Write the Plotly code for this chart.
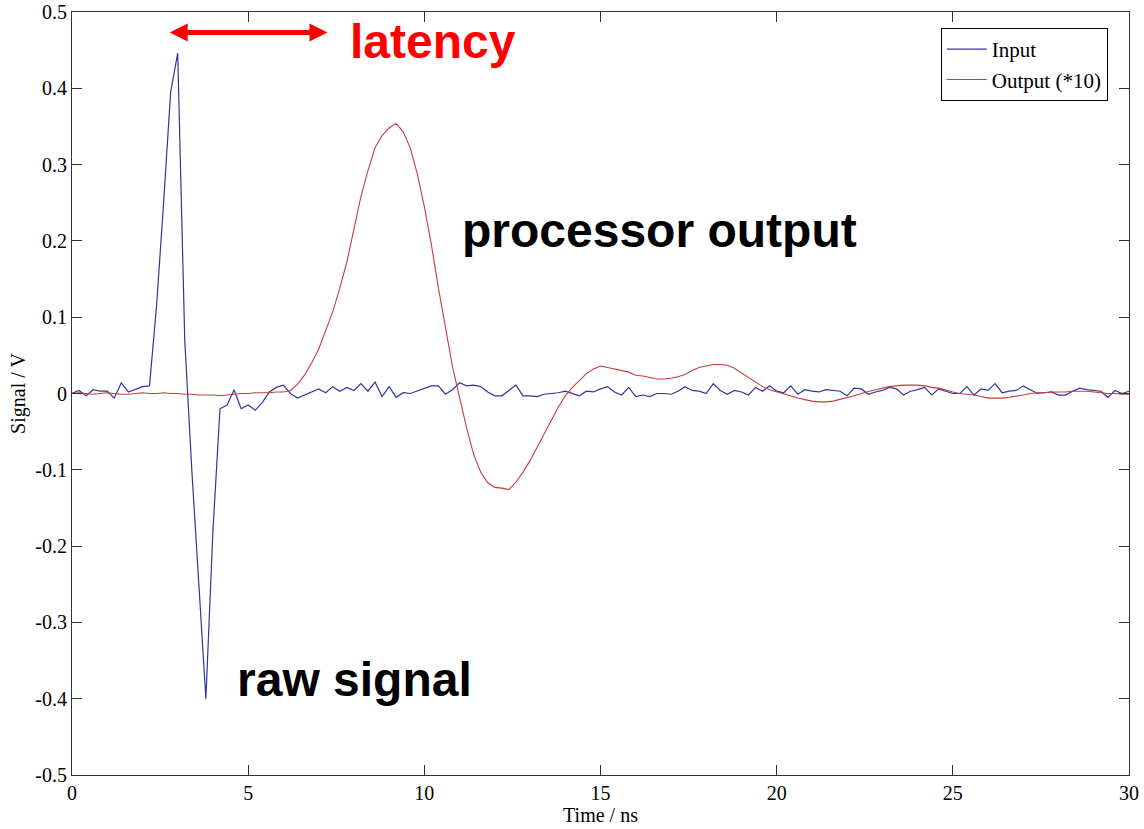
import plotly.graph_objects as go

# Sample grid (ns), 0.2 ns step
sample_step_ns = 0.2
time_ns = [round(i * sample_step_ns, 1) for i in range(151)]

# Input signal (V)
input_v = [
    0.000, 0.004, -0.003, 0.005, 0.003, 0.003, -0.006, 0.014, 0.002, 0.006,
    0.009, 0.010, 0.115, 0.250, 0.395, 0.446, 0.070, -0.100, -0.250, -0.400,
    -0.180, -0.020, -0.015, 0.005, -0.020, -0.015, -0.022, -0.012, 0.002, 0.008,
    0.011, 0.000, -0.006, -0.002, 0.003, 0.006, 0.001, 0.009, 0.003, 0.008,
    0.004, 0.013, 0.003, 0.015, -0.004, 0.009, -0.005, 0.001, 0.000, 0.003,
    0.006, 0.010, 0.010, -0.001, 0.005, 0.014, 0.010, 0.011, 0.009, 0.002,
    -0.003, -0.003, 0.004, 0.011, -0.003, -0.003, -0.004, -0.001, 0.000, 0.001,
    0.003, 0.000, -0.003, 0.003, 0.002, 0.006, 0.009, 0.002, -0.002, 0.008,
    -0.004, -0.002, -0.004, 0.000, 0.000, -0.001, 0.003, 0.009, 0.004, 0.003,
    0.000, 0.013, 0.004, -0.001, 0.004, 0.002, -0.002, 0.008, 0.003, 0.010,
    0.003, 0.001, 0.010, -0.001, 0.005, 0.003, 0.002, 0.005, 0.004, 0.003,
    -0.003, 0.007, 0.006, -0.001, 0.002, 0.004, 0.008, 0.006, -0.002, 0.003,
    0.005, 0.008, -0.002, 0.006, 0.003, 0.000, 0.000, 0.009, -0.002, 0.006,
    0.004, 0.013, 0.001, 0.003, 0.004, 0.010, 0.005, 0.000, 0.001, 0.002,
    -0.002, -0.002, 0.003, 0.007, 0.005, 0.004, 0.003, -0.005, 0.004, 0.000,
    0.003,
]

# Processor output x10 (V)
output_x10_v = [
    0.000, 0.001, 0.000, -0.001, 0.000, 0.001, 0.000, -0.001, -0.001, 0.000,
    0.001, 0.000, 0.000, 0.001, 0.000, 0.000, -0.001, -0.001, -0.002, -0.002,
    -0.002, -0.003, -0.002, -0.001, 0.000, 0.000, 0.001, 0.001, 0.001, 0.002,
    0.002, 0.004, 0.012, 0.024, 0.040, 0.058, 0.082, 0.107, 0.138, 0.172,
    0.215, 0.258, 0.292, 0.322, 0.338, 0.348, 0.354, 0.343, 0.322, 0.288,
    0.245, 0.195, 0.138, 0.085, 0.035, -0.005, -0.045, -0.080, -0.103, -0.117,
    -0.123, -0.124, -0.126, -0.116, -0.103, -0.088, -0.070, -0.052, -0.035, -0.018,
    -0.003, 0.008, 0.017, 0.026, 0.032, 0.036, 0.034, 0.032, 0.030, 0.028,
    0.024, 0.023, 0.021, 0.019, 0.019, 0.020, 0.022, 0.025, 0.030, 0.034,
    0.036, 0.038, 0.038, 0.037, 0.033, 0.027, 0.021, 0.014, 0.009, 0.005,
    0.002, 0.000, -0.004, -0.006, -0.008, -0.010, -0.011, -0.011, -0.010, -0.008,
    -0.005, -0.003, 0.000, 0.003, 0.005, 0.007, 0.009, 0.010, 0.011, 0.011,
    0.011, 0.010, 0.008, 0.007, 0.004, 0.002, 0.000, -0.001, -0.002, -0.004,
    -0.006, -0.006, -0.006, -0.005, -0.004, -0.002, 0.000, 0.001, 0.001, 0.002,
    0.002, 0.002, 0.003, 0.003, 0.003, 0.002, 0.001, 0.000, 0.000, -0.001,
    -0.001,
]

x_ticks = [0, 5, 10, 15, 20, 25, 30]
x_tick_labels = ["0", "5", "10", "15", "20", "25", "30"]
y_ticks = [-0.5, -0.4, -0.3, -0.2, -0.1, 0, 0.1, 0.2, 0.3, 0.4, 0.5]
y_tick_labels = ["-0.5", "-0.4", "-0.3", "-0.2", "-0.1", "0", "0.1", "0.2", "0.3", "0.4", "0.5"]

serif = "Liberation Serif, Times New Roman, serif"
sans = "Liberation Sans, Arial, sans-serif"

fig = go.Figure()
fig.add_trace(go.Scatter(x=time_ns, y=input_v, mode="lines", name="Input",
                         line=dict(color="#34349e", width=1.2)))
fig.add_trace(go.Scatter(x=time_ns, y=output_x10_v, mode="lines", name="Output (*10)",
                         line=dict(color="#c83c3c", width=1.1)))

axis_common = dict(showgrid=False, zeroline=False, showline=True, linecolor="#333333",
                   linewidth=1, mirror="ticks", ticks="inside", ticklen=10,
                   tickcolor="#333333", tickwidth=1, automargin=False,
                   tickfont=dict(family=serif, size=20, color="black"))

fig.update_xaxes(range=[0, 30], tickvals=x_ticks, ticktext=x_tick_labels,
                 title=dict(text="Time / ns", font=dict(family=serif, size=20, color="black"),
                            standoff=4),
                 **axis_common)
fig.update_yaxes(range=[-0.5, 0.5], tickvals=y_ticks, ticktext=y_tick_labels,
                 title=dict(text="Signal / V", font=dict(family=serif, size=20, color="black"),
                            standoff=4),
                 **axis_common)

# latency arrow
fig.add_annotation(x=7.25, y=0.473, ax=2.73, ay=0.473, xref="x", yref="y",
                   axref="x", ayref="y", text="", showarrow=True,
                   arrowhead=2, startarrowhead=2, arrowside="end+start",
                   arrowwidth=5, arrowsize=0.72, startarrowsize=0.72,
                   arrowcolor="#ff0000", standoff=0, startstandoff=0)
fig.add_annotation(x=7.83, y=0.461, xref="x", yref="y", text="<b>latency</b>",
                   showarrow=False, xanchor="left", yanchor="middle",
                   font=dict(family=sans, size=48, color="#ff0000"))
fig.add_annotation(x=11.01, y=0.213, xref="x", yref="y", text="<b>processor output</b>",
                   showarrow=False, xanchor="left", yanchor="middle",
                   font=dict(family=sans, size=48, color="black"))
fig.add_annotation(x=4.63, y=-0.375, xref="x", yref="y", text="<b>raw signal</b>",
                   showarrow=False, xanchor="left", yanchor="middle",
                   font=dict(family=sans, size=48, color="black"))

fig.update_layout(
    width=1144, height=829,
    margin=dict(l=72, r=15, t=12, b=54, autoexpand=False),
    paper_bgcolor="white", plot_bgcolor="white",
    showlegend=True,
    legend=dict(x=0.98, y=0.979, xanchor="right", yanchor="top",
                bgcolor="white", bordercolor="black", borderwidth=1,
                font=dict(family=serif, size=21, color="black"),
                tracegroupgap=0, itemwidth=40),
)

fig.write_html("out.html")
